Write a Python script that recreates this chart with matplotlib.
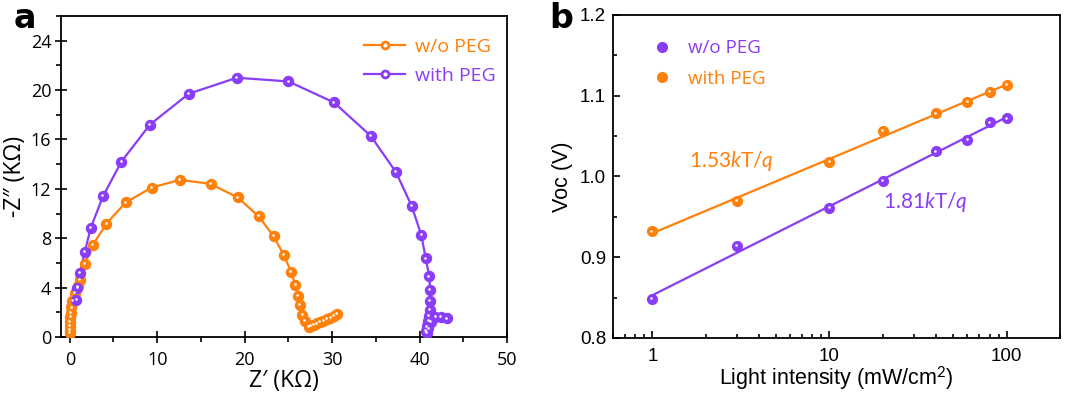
import numpy as np
import matplotlib
matplotlib.use("Agg")
import matplotlib.pyplot as plt
from matplotlib.ticker import MultipleLocator, FixedLocator, LogLocator, NullFormatter
import matplotlib.transforms as mtransforms
from matplotlib.lines import Line2D

# ---- Panel a data (Nyquist) ----
wo_peg_zre = [0.0, 0.0, 0.02, 0.05, 0.08, 0.12, 0.19, 0.3, 0.57, 0.9, 1.15, 1.72, 2.67, 4.2, 6.4, 9.35,
              12.6, 16.1, 19.2, 21.6, 23.3, 24.5, 25.3, 25.8, 26.1, 26.3, 26.6, 26.9, 27.3, 27.6, 27.9,
              28.3, 28.6, 29.0, 29.4, 29.8, 30.2, 30.5]
wo_peg_zim = [0.3, 0.6, 0.9, 1.2, 1.6, 1.95, 2.4, 2.9, 3.57, 4.1, 4.6, 5.92, 7.49, 9.19, 10.9, 12.1,
              12.73, 12.4, 11.3, 9.78, 8.16, 6.62, 5.27, 4.19, 3.35, 2.57, 1.81, 1.27, 0.81, 0.9, 1.0,
              1.1, 1.2, 1.33, 1.46, 1.57, 1.68, 1.86]
with_peg_zre = [0.76, 0.88, 1.15, 1.72, 2.4, 3.8, 5.9, 9.16, 13.6, 19.1, 25.0, 30.2, 34.4, 37.3, 39.1,
                40.2, 40.7, 41.1, 41.2, 41.2, 41.2, 41.1, 41.0, 40.85, 40.7, 40.8, 41.0, 41.3, 41.8,
                42.4, 43.1]
with_peg_zim = [3.0, 3.97, 5.2, 6.9, 8.84, 11.4, 14.2, 17.2, 19.7, 21.0, 20.7, 19.0, 16.3, 13.35, 10.6,
                8.24, 6.37, 4.91, 3.78, 2.89, 2.2, 1.68, 1.27, 0.86, 0.46, 0.3, 0.7, 1.2, 1.6,
                1.65, 1.5]

# ---- Panel b data (Voc vs light intensity) ----
light_intensity = [1, 3, 10, 20, 40, 60, 80, 100]
voc_wo_peg = [0.848, 0.914, 0.961, 0.995, 1.031, 1.045, 1.067, 1.072]
voc_with_peg = [0.932, 0.970, 1.018, 1.056, 1.078, 1.092, 1.105, 1.113]

ORANGE = "#FF800A"
PURPLE = "#8A3DF7"

plt.rcParams["mathtext.fontset"] = "custom"
plt.rcParams["mathtext.rm"] = "Lato"
plt.rcParams["mathtext.it"] = "Lato:italic"

fig = plt.figure(figsize=(10.8, 3.96), dpi=100)

def shiny(ax, x, y, color, ms, **kw):
    ax.plot(x, y, "o", color=color, ms=ms, mec=color, zorder=3, **kw)
    off = mtransforms.ScaledTranslation(-0.6 / 72, 0.6 / 72, fig.dpi_scale_trans)
    ax.plot(x, y, "o", color="white", ms=ms * 0.26, mew=0, zorder=4,
            transform=ax.transData + off)

# ---------------- Panel a ----------------
axa = fig.add_axes([0.0565, 0.149, 0.413, 0.8106])
fa = ["Open Sans", "DejaVu Sans"]
axa.plot(wo_peg_zre, wo_peg_zim, "-", color=ORANGE, lw=1.6, zorder=2)
shiny(axa, wo_peg_zre, wo_peg_zim, ORANGE, 7.2)
axa.plot(with_peg_zre, with_peg_zim, "-", color=PURPLE, lw=1.6, zorder=2)
shiny(axa, with_peg_zre, with_peg_zim, PURPLE, 7.2)
axa.set_xlim(-1, 50)
axa.set_ylim(0, 26)
axa.xaxis.set_major_locator(MultipleLocator(10))
axa.xaxis.set_minor_locator(MultipleLocator(5))
axa.yaxis.set_major_locator(FixedLocator([0, 4, 8, 12, 16, 20, 24]))
axa.yaxis.set_minor_locator(MultipleLocator(2))
axa.tick_params(which="major", direction="inout", length=8, width=1.2, labelsize=13, pad=3)
axa.tick_params(axis="x", which="major", pad=6)
axa.tick_params(which="minor", direction="out", length=3.5, width=1.2)
axa.tick_params(which="both", top=False, right=False)
for lab in axa.get_xticklabels() + axa.get_yticklabels():
    lab.set_family(fa)
for s in axa.spines.values():
    s.set_linewidth(1.3)
axa.set_xlabel("Z\u2032 (K\u03a9)", fontsize=16.5, family=fa, labelpad=0)
axa.set_ylabel("-Z\u2033 (K\u03a9)", fontsize=16.5, family=fa, labelpad=3)

h1 = Line2D([], [], color=ORANGE, lw=1.6, marker="o", ms=5, mfc="white", mec=ORANGE, mew=2)
h2 = Line2D([], [], color=PURPLE, lw=1.6, marker="o", ms=5, mfc="white", mec=PURPLE, mew=2)
leg = axa.legend([h1, h2], ["w/o PEG", "with PEG"], loc="upper right", frameon=False,
                 prop={"family": fa, "size": 14}, handlelength=2.1, handletextpad=0.5,
                 labelspacing=0.6, bbox_to_anchor=(1.005, 0.975), borderaxespad=0.3)
for t, c in zip(leg.get_texts(), [ORANGE, PURPLE]):
    t.set_color(c)

fig.text(0.013, 0.995, "a", fontsize=24, fontweight="bold", family="DejaVu Sans",
         va="top", ha="left")

# ---------------- Panel b ----------------
axb = fig.add_axes([0.5676, 0.1465, 0.4139, 0.8157])
fb = ["Liberation Sans", "DejaVu Sans"]
xs = np.array(light_intensity, dtype=float)
for yv, col in [(voc_with_peg, ORANGE), (voc_wo_peg, PURPLE)]:
    p = np.polyfit(np.log10(xs), yv, 1)
    xf = np.array([xs.min(), xs.max()])
    axb.plot(xf, np.polyval(p, np.log10(xf)), "-", color=col, lw=1.6, zorder=2)
shiny(axb, light_intensity, voc_with_peg, ORANGE, 7.0)
shiny(axb, light_intensity, voc_wo_peg, PURPLE, 7.0)
axb.set_xscale("log")
axb.set_xlim(0.6, 200)
axb.set_ylim(0.8, 1.2)
axb.set_xticks([1, 10, 100])
axb.set_xticklabels(["1", "10", "100"])
axb.xaxis.set_minor_locator(LogLocator(base=10, subs=np.arange(2, 10)))
axb.xaxis.set_minor_formatter(NullFormatter())
axb.yaxis.set_major_locator(FixedLocator([0.8, 0.9, 1.0, 1.1, 1.2]))
axb.yaxis.set_minor_locator(MultipleLocator(0.05))
axb.tick_params(which="both", direction="in", top=False, right=False, width=1.2)
axb.tick_params(which="major", length=5, labelsize=13.5, pad=5)
axb.tick_params(axis="x", which="major", pad=7)
axb.tick_params(which="minor", length=3)
for lab in axb.get_xticklabels() + axb.get_yticklabels():
    lab.set_family(fb)
for s in axb.spines.values():
    s.set_linewidth(1.3)
axb.set_xlabel("Light intensity (mW/cm$^2$)", fontsize=15.5, family=fb, labelpad=0)
axb.set_ylabel("Voc (V)", fontsize=15.5, family=fb, labelpad=5)

hb1 = Line2D([], [], ls="none", marker="o", ms=7, mfc=PURPLE, mec=PURPLE)
hb2 = Line2D([], [], ls="none", marker="o", ms=7, mfc=ORANGE, mec=ORANGE)
legb = axb.legend([hb1, hb2], ["w/o PEG", "with PEG"], loc="upper left", frameon=False,
                  prop={"family": fa, "size": 13.5}, handlelength=1.2, handletextpad=0.8,
                  labelspacing=0.65, bbox_to_anchor=(0.055, 0.965), borderaxespad=0.3)
for t, c in zip(legb.get_texts(), [PURPLE, ORANGE]):
    t.set_color(c)

axb.text(1.62, 1.019, "1.53$\\mathit{k}$T/$\\mathit{q}$", color=ORANGE, fontsize=15,
         family=["Lato", "DejaVu Sans"], va="center", ha="left")
axb.text(20.0, 0.969, "1.81$\\mathit{k}$T/$\\mathit{q}$", color=PURPLE, fontsize=15,
         family=["Lato", "DejaVu Sans"], va="center", ha="left")

fig.text(0.509, 0.995, "b", fontsize=24, fontweight="bold", family="DejaVu Sans",
         va="top", ha="left")

fig.savefig("out.png", dpi=100)
